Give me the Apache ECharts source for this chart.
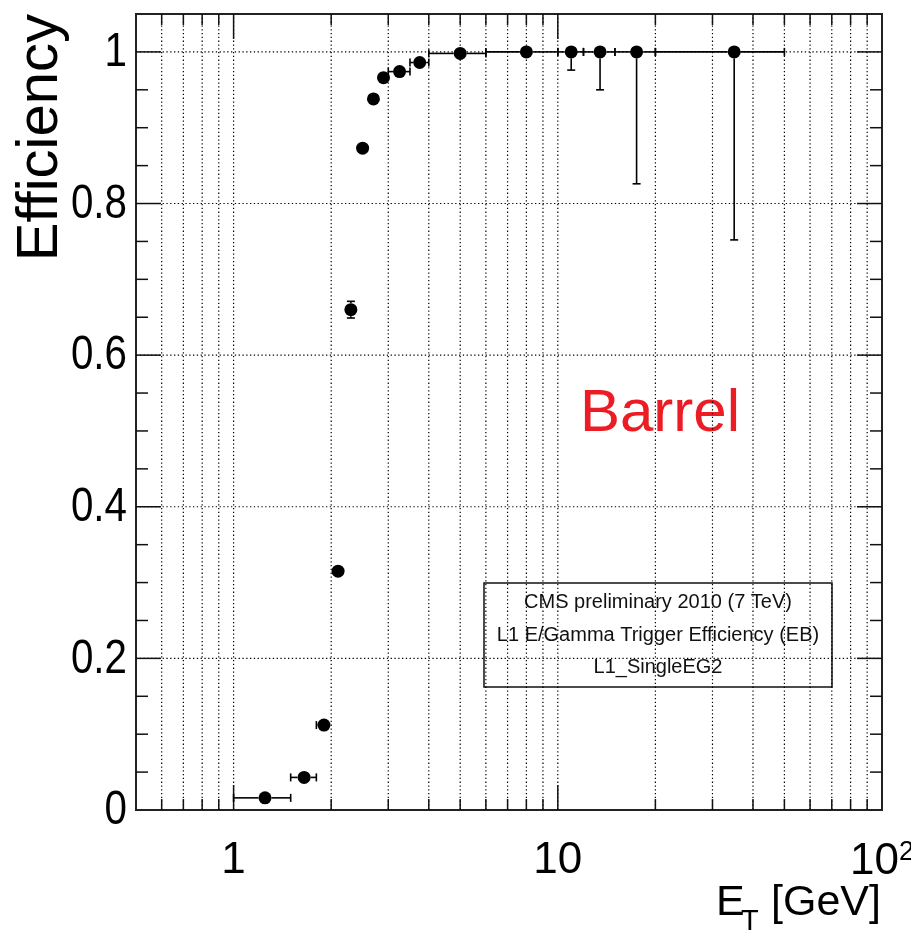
<!DOCTYPE html>
<html>
<head>
<meta charset="utf-8">
<title>L1 E/Gamma Trigger Efficiency (EB)</title>
<script src="https://cdn.jsdelivr.net/npm/echarts@6/dist/echarts.min.js"></script>
<style>
  html, body { margin: 0; padding: 0; background: #fff; }
  #chart { width: 911px; height: 938px; }
</style>
</head>
<body>
<div id="chart"></div>
<script>
// Turn-on curve of the L1_SingleEG2 trigger, barrel electromagnetic calorimeter.
// Bin edges in E_T [GeV]
const binLow  = [1.0, 1.5, 1.8, 2.0, 2.2, 2.4, 2.6, 2.8, 3.0, 3.5, 4, 6, 10, 12, 15, 20];
const binHigh = [1.5, 1.8, 2.0, 2.2, 2.4, 2.6, 2.8, 3.0, 3.5, 4.0, 6, 10, 12, 15, 20, 50];
// Point positions in E_T [GeV]
const etCenter = [1.25, 1.65, 1.9, 2.1, 2.3, 2.5, 2.7, 2.9, 3.25, 3.75, 5, 8, 11, 13.5, 17.5, 35];
// Measured efficiency and its asymmetric uncertainties
const efficiency = [0.016, 0.043, 0.112, 0.315, 0.660, 0.873, 0.938, 0.966, 0.974, 0.986, 0.998, 1.0, 1.0, 1.0, 1.0, 1.0];
const errDown    = [0.003, 0.005, 0.006, 0.008, 0.011, 0.007, 0.006, 0.005, 0.005, 0.004, 0.003, 0.003, 0.024, 0.050, 0.174, 0.248];
const errUp      = [0.003, 0.005, 0.006, 0.008, 0.011, 0.007, 0.006, 0.005, 0.005, 0.004, 0.002, 0.0, 0.0, 0.0, 0.0, 0.0];

// Axis ranges and tick values
const xRange = [0.5, 100];
const yRange = [0, 1.05];
const xMajorTicks = [1, 10];
const xMinorTicks = [0.6, 0.7, 0.8, 0.9, 2, 3, 4, 5, 6, 7, 8, 9, 20, 30, 40, 50, 60, 70, 80, 90];
const xGridLines  = [0.6, 0.7, 0.8, 0.9, 1, 2, 3, 4, 5, 6, 7, 8, 9, 10, 20, 30, 40, 50, 60, 70, 80, 90];
const yMajorTicks = [0.2, 0.4, 0.6, 0.8, 1.0];
const yMinorTicks = [0.05, 0.1, 0.15, 0.25, 0.3, 0.35, 0.45, 0.5, 0.55, 0.65, 0.7, 0.75, 0.85, 0.9, 0.95];
const yGridLines  = [0.2, 0.4, 0.6, 0.8, 1.0];
const xLabelText = { 1: '{n|1}', 10: '{n|10}', 100: '{n|10}{s|2}' };
const yLabelValues = [0, 0.2, 0.4, 0.6, 0.8, 1];

// Text
const yTitle = 'Efficiency';
const infoLines = ['CMS preliminary 2010 (7 TeV)', 'L1 E/Gamma Trigger Efficiency (EB)', 'L1_SingleEG2'];
const regionText = 'Barrel';

const SANS = "'Liberation Sans', Arial, Helvetica, sans-serif";
const INK = '#111';
const MARKER = 13;

const chart = echarts.init(document.getElementById('chart'), null, { renderer: 'canvas' });

// Rows for the error-bar series: [x, y, xLow, xHigh, yLow, yHigh]
const errRows = etCenter.map((x, i) => [x, efficiency[i], binLow[i], binHigh[i],
  efficiency[i] - errDown[i], efficiency[i] + errUp[i]]);
const points = etCenter.map((x, i) => [x, efficiency[i]]);

function tickSeries(values, len, axis) {
  return {
    type: 'custom',
    coordinateSystem: 'cartesian2d',
    silent: true,
    z: 6,
    clip: false,
    data: values.map(v => axis === 'x' ? [v, yRange[0]] : [xRange[0], v]),
    renderItem: function (params, api) {
      const cs = params.coordSys;
      const st = { stroke: INK, lineWidth: 1.5 };
      if (axis === 'x') {
        const x = api.coord([api.value(0), yRange[0]])[0];
        const b = cs.y + cs.height;
        return { type: 'group', children: [
          { type: 'line', shape: { x1: x, y1: b, x2: x, y2: b - len }, style: st },
          { type: 'line', shape: { x1: x, y1: cs.y, x2: x, y2: cs.y + len }, style: st }
        ] };
      }
      const y = api.coord([xRange[0], api.value(1)])[1];
      const r = cs.x + cs.width;
      return { type: 'group', children: [
        { type: 'line', shape: { x1: cs.x, y1: y, x2: cs.x + len, y2: y }, style: st },
        { type: 'line', shape: { x1: r, y1: y, x2: r - len, y2: y }, style: st }
      ] };
    }
  };
}

function gridSeries(values, axis) {
  return {
    type: 'custom',
    coordinateSystem: 'cartesian2d',
    silent: true,
    z: 1,
    clip: false,
    data: values.map(v => axis === 'x' ? [v, yRange[0]] : [xRange[0], v]),
    renderItem: function (params, api) {
      const cs = params.coordSys;
      const st = { stroke: '#000', lineWidth: 1.2, lineDash: [1.3, 2.5] };
      if (axis === 'x') {
        const x = api.coord([api.value(0), yRange[0]])[0];
        return { type: 'line', shape: { x1: x, y1: cs.y, x2: x, y2: cs.y + cs.height }, style: st };
      }
      const y = api.coord([xRange[0], api.value(1)])[1];
      return { type: 'line', shape: { x1: cs.x, y1: y, x2: cs.x + cs.width, y2: y }, style: st };
    }
  };
}

// Y tick labels, drawn slightly condensed like the original typeface
const yLabelSeries = {
  type: 'custom',
  coordinateSystem: 'cartesian2d',
  silent: true,
  z: 6,
  clip: false,
  data: yLabelValues.map(v => [xRange[0], v]),
  renderItem: function (params, api) {
    const cs = params.coordSys;
    const v = api.value(1);
    const y = api.coord([xRange[0], v])[1];
    return {
      type: 'text', x: cs.x - 9, y: y + 1, scaleX: 0.84,
      style: { text: String(v), fill: '#000', font: '48px ' + SANS, align: 'right', verticalAlign: 'middle' }
    };
  }
};

const option = {
  backgroundColor: '#fff',
  animation: false,
  grid: {
    left: 136, right: 29, top: 14, bottom: 128,
    outerBoundsMode: 'none',
    containLabel: false,
    show: true, borderColor: '#222', borderWidth: 2, backgroundColor: 'transparent'
  },
  xAxis: {
    type: 'log',
    logBase: 10,
    min: xRange[0],
    max: xRange[1],
    axisLine: { show: false },
    axisTick: { show: false },
    splitLine: { show: false },
    axisLabel: {
      margin: 29,
      color: '#000',
      showMinLabel: true,
      showMaxLabel: true,
      hideOverlap: false,
      formatter: function (v) {
        const k = Math.round(v);
        if (Math.abs(v - k) < 1e-6 && xLabelText[k]) return xLabelText[k];
        return '';
      },
      rich: {
        n: { fontSize: 44, fontFamily: SANS, color: '#000' },
        s: { fontSize: 27, fontFamily: SANS, color: '#000', verticalAlign: 'top', padding: [0, 0, 18, 0] }
      }
    }
  },
  yAxis: {
    type: 'value',
    min: yRange[0],
    max: yRange[1],
    interval: 0.2,
    axisLine: { show: false },
    axisTick: { show: false },
    splitLine: { show: false },
    axisLabel: { show: false }
  },
  graphic: [
    {
      type: 'text', z: 0, zlevel: 0, silent: true,
      x: 660, y: 414,
      style: { text: regionText, fill: '#ec1c24', font: '60px ' + SANS, align: 'center', verticalAlign: 'middle' }
    },
    {
      type: 'text', silent: true,
      x: 70, y: 14, rotation: Math.PI / 2,
      style: { text: yTitle, fill: '#000', font: '58px ' + SANS, align: 'right', verticalAlign: 'bottom' }
    },
    {
      type: 'group', silent: true, zlevel: 1,
      children: [
        { type: 'rect', shape: { x: 484, y: 583, width: 348, height: 104 },
          style: { fill: '#fff', stroke: '#111', lineWidth: 1.5 } },
        { type: 'text', x: 658, y: 602, style: { text: infoLines[0], fill: '#111', font: '20px ' + SANS, align: 'center', verticalAlign: 'middle' } },
        { type: 'text', x: 658, y: 635, style: { text: infoLines[1], fill: '#111', font: '20px ' + SANS, align: 'center', verticalAlign: 'middle' } },
        { type: 'text', x: 658, y: 667, style: { text: infoLines[2], fill: '#111', font: '20px ' + SANS, align: 'center', verticalAlign: 'middle' } }
      ]
    },
    {
      type: 'group', silent: true,
      children: [
        { type: 'text', x: 716, y: 903, style: { text: 'E', fill: '#000', font: '43px ' + SANS, align: 'left', verticalAlign: 'middle' } },
        { type: 'text', x: 741, y: 922, style: { text: 'T', fill: '#000', font: '29px ' + SANS, align: 'left', verticalAlign: 'middle' } },
        { type: 'text', x: 881, y: 903, style: { text: '[GeV]', fill: '#000', font: '43px ' + SANS, align: 'right', verticalAlign: 'middle' } }
      ]
    }
  ],
  series: [
    gridSeries(xGridLines, 'x'),
    gridSeries(yGridLines, 'y'),
    tickSeries(xMajorTicks, 25, 'x'),
    tickSeries(xMinorTicks, 11, 'x'),
    tickSeries(yMajorTicks, 25, 'y'),
    tickSeries(yMinorTicks, 12, 'y'),
    yLabelSeries,
    {
      name: 'errors',
      type: 'custom',
      coordinateSystem: 'cartesian2d',
      silent: true,
      z: 7,
      clip: false,
      encode: { x: 0, y: 1 },
      data: errRows,
      renderItem: function (params, api) {
        const p = api.coord([api.value(0), api.value(1)]);
        const l = api.coord([api.value(2), api.value(1)]);
        const r = api.coord([api.value(3), api.value(1)]);
        const lo = api.coord([api.value(0), api.value(4)]);
        const hi = api.coord([api.value(0), api.value(5)]);
        const cap = 4;
        const rad = MARKER / 2;
        const st = { stroke: '#000', lineWidth: 1.6 };
        const kids = [];
        // horizontal bar, only the parts outside the marker
        if (p[0] - l[0] > rad + 1) {
          kids.push({ type: 'line', shape: { x1: l[0], y1: p[1], x2: p[0] - rad, y2: p[1] }, style: st });
          kids.push({ type: 'line', shape: { x1: l[0], y1: p[1] - cap, x2: l[0], y2: p[1] + cap }, style: st });
        }
        if (r[0] - p[0] > rad + 1) {
          kids.push({ type: 'line', shape: { x1: p[0] + rad, y1: p[1], x2: r[0], y2: p[1] }, style: st });
          kids.push({ type: 'line', shape: { x1: r[0], y1: p[1] - cap, x2: r[0], y2: p[1] + cap }, style: st });
        }
        // vertical bar, only the parts outside the marker
        if (lo[1] - p[1] > rad + 1) {
          kids.push({ type: 'line', shape: { x1: p[0], y1: p[1] + rad, x2: p[0], y2: lo[1] }, style: st });
          kids.push({ type: 'line', shape: { x1: p[0] - cap, y1: lo[1], x2: p[0] + cap, y2: lo[1] }, style: st });
        }
        if (p[1] - hi[1] > rad + 1) {
          kids.push({ type: 'line', shape: { x1: p[0], y1: p[1] - rad, x2: p[0], y2: hi[1] }, style: st });
          kids.push({ type: 'line', shape: { x1: p[0] - cap, y1: hi[1], x2: p[0] + cap, y2: hi[1] }, style: st });
        }
        return { type: 'group', children: kids };
      }
    },
    {
      name: 'Efficiency',
      type: 'scatter',
      z: 8,
      symbol: 'circle',
      symbolSize: MARKER,
      itemStyle: { color: '#000', opacity: 1 },
      data: points
    }
  ]
};

chart.setOption(option);
</script>
</body>
</html>
